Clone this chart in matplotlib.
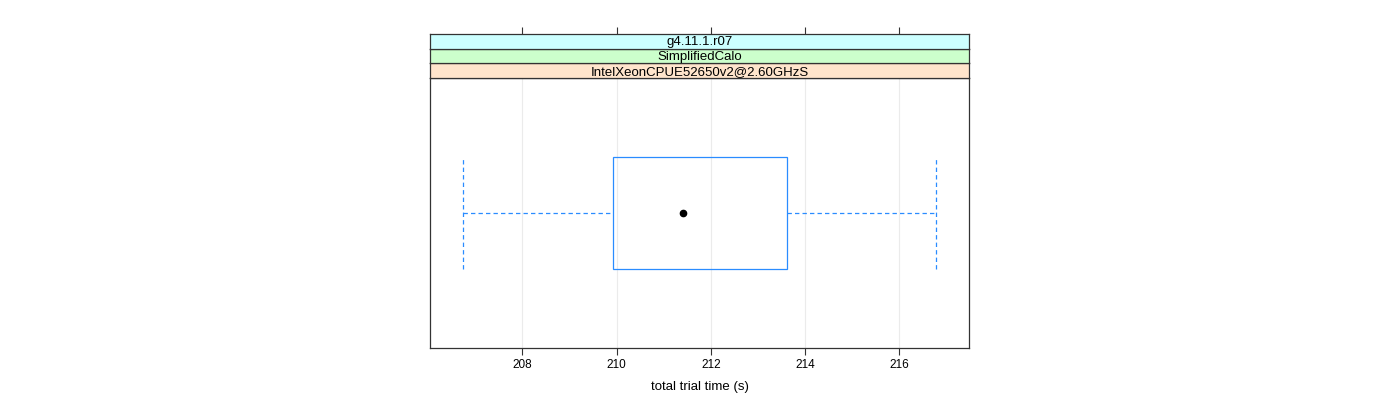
import matplotlib.pyplot as plt
from matplotlib.patches import Rectangle

plt.rcParams['font.family'] = ['Liberation Sans', 'DejaVu Sans']

# box statistics
whisker_lo = 206.75
q1 = 209.92
median = 211.42
q3 = 213.62
whisker_hi = 216.78

strip_labels = ['IntelXeonCPUE52650v2@2.60GHzS', 'SimplifiedCalo', 'g4.11.1.r07']
strip_colors = ['#FFE5CC', '#CCFFCC', '#CCFFFF']
xticks = [208, 210, 212, 214, 216]

box_col = '#2a8cff'
frame_col = '#333333'

fig = plt.figure(figsize=(14, 4), dpi=100)
left, width = 430 / 1400, 539 / 1400
ax = fig.add_axes([left, 1 - 348 / 400, width, 270 / 400])

xlim = (206.04, 217.48)
ax.set_xlim(*xlim)
ax.set_ylim(0.4, 1.6)

for t in xticks:
    ax.axvline(t, color='#ebebeb', lw=0.8, zorder=0)

# whiskers
dash = (0, (3.5, 2.5))
ax.plot([whisker_lo, q1], [1, 1], color=box_col, lw=0.9, ls=dash)
ax.plot([q3, whisker_hi], [1, 1], color=box_col, lw=0.9, ls=dash)
for w in (whisker_lo, whisker_hi):
    ax.plot([w, w], [0.75, 1.25], color=box_col, lw=0.9, ls=dash)
ax.add_patch(Rectangle((q1, 0.75), q3 - q1, 0.5, fill=False, ec=box_col, lw=0.9))
ax.plot([median], [1], 'o', color='black', ms=4.5)

ax.set_xticks(xticks)
ax.set_xticklabels([str(t) for t in xticks])
ax.set_yticks([])
ax.tick_params(axis='x', direction='out', length=5, width=0.8, color=frame_col,
               labelsize=8.5, pad=3)
for s in ax.spines.values():
    s.set_color(frame_col)
    s.set_linewidth(0.9)
ax.set_xlabel('total trial time (s)', fontsize=9.5, labelpad=7)

strip_h = 14.7 / 400
for i, (lab, col) in enumerate(zip(strip_labels, strip_colors)):
    y0 = 1 - 78 / 400 + i * strip_h
    sax = fig.add_axes([left, y0, width, strip_h])
    sax.set_facecolor(col)
    sax.set_xlim(*xlim)
    sax.set_yticks([])
    for s in sax.spines.values():
        s.set_color(frame_col)
        s.set_linewidth(0.9)
    sax.text(0.5, 0.42, lab, transform=sax.transAxes, ha='center', va='center',
             fontsize=9.5)
    if i == len(strip_labels) - 1:
        sax.xaxis.tick_top()
        sax.set_xticks(xticks)
        sax.set_xticklabels([])
        sax.tick_params(axis='x', direction='out', length=5, width=0.8, color=frame_col)
    else:
        sax.set_xticks([])

fig.savefig('out.png', dpi=100)
